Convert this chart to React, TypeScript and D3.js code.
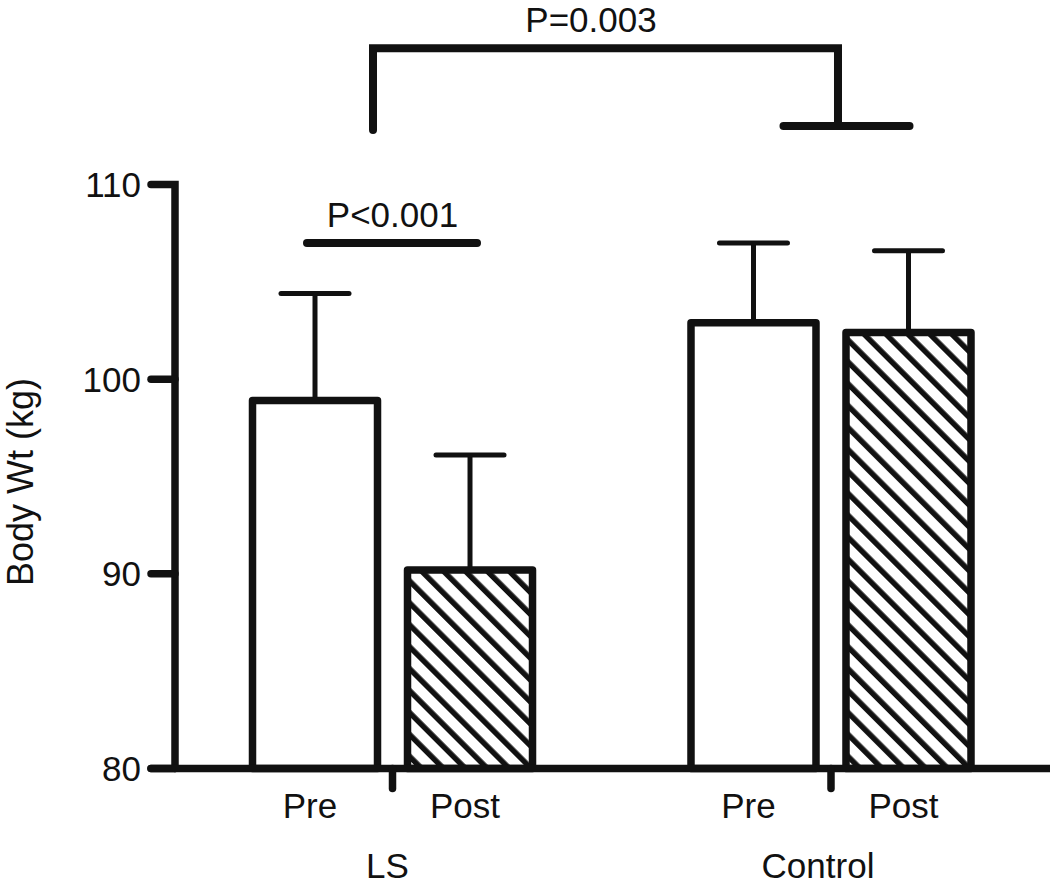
import React from "react";
import * as d3 from "d3";

const groups = ["LS", "Control"];
const phases = ["Pre", "Post"];
const preMeans = [98.9, 102.9];
const postMeans = [90.2, 102.4];
const preErrTop = [104.4, 107.0];
const postErrTop = [96.1, 106.6];
const yTicks = [80, 90, 100, 110];
const yLabel = "Body Wt (kg)";
const pInner = "P<0.001";
const pOuter = "P=0.003";

const W = 1050;
const H = 886;
const FONT = "'Liberation Sans', Arial, Helvetica, sans-serif";

export default function App() {
  const y = d3.scaleLinear().domain([80, 110]).range([768.5, 184.5]);
  const xGroup = d3
    .scaleBand<string>()
    .domain(groups)
    .range([237.5, 986])
    .paddingInner(0.293)
    .paddingOuter(0);
  const xPhase = d3
    .scaleBand<string>()
    .domain(phases)
    .range([0, xGroup.bandwidth()])
    .paddingInner(30 / 155)
    .paddingOuter(15 / 155);
  const bw = xPhase.bandwidth();
  const axisX = 175;
  const tickLeft = 151;

  const bars: { g: string; p: string; mean: number; top: number }[] = [];
  groups.forEach((g, i) => {
    bars.push({ g, p: "Pre", mean: preMeans[i], top: preErrTop[i] });
    bars.push({ g, p: "Post", mean: postMeans[i], top: postErrTop[i] });
  });
  const cx = (g: string, p: string) => (xGroup(g) as number) + (xPhase(p) as number) + bw / 2;
  const gc = (g: string) => (xGroup(g) as number) + xGroup.bandwidth() / 2;

  const lw = 7.5;

  return (
    <svg
      width={W}
      height={H}
      style={{ position: "absolute", left: 0, top: 0, background: "#fff" }}
      fontFamily={FONT}
    >
      <defs>
        <pattern
          id="hatch"
          patternUnits="userSpaceOnUse"
          width={15.5}
          height={15.5}
          patternTransform="rotate(-45)"
        >
          <rect x={0} y={0} width={15.5} height={15.5} fill="#fff" />
          <rect x={0} y={0} width={5.5} height={15.5} fill="#111" />
        </pattern>
      </defs>

      {/* bars */}
      {bars.map((b, i) => {
        const x0 = cx(b.g, b.p) - bw / 2;
        const yt = y(b.mean);
        return (
          <g key={i}>
            <line
              x1={cx(b.g, b.p)}
              x2={cx(b.g, b.p)}
              y1={yt}
              y2={y(b.top)}
              stroke="#111"
              strokeWidth={5}
            />
            <line
              x1={cx(b.g, b.p) - 34}
              x2={cx(b.g, b.p) + 34}
              y1={y(b.top)}
              y2={y(b.top)}
              stroke="#111"
              strokeWidth={5}
              strokeLinecap="round"
            />
            <rect
              x={x0}
              y={yt}
              width={bw}
              height={y(80) - yt}
              fill={b.p === "Post" ? "url(#hatch)" : "#fff"}
              stroke="#111"
              strokeWidth={lw}
              strokeLinejoin="round"
            />
          </g>
        );
      })}

      {/* y axis */}
      <path
        d={`M${tickLeft},${y(110)} H${axisX} V${y(80)}`}
        fill="none"
        stroke="#111"
        strokeWidth={lw}
        strokeLinecap="round"
      />
      {yTicks
        .filter((t) => t !== 110)
        .map((t) => (
          <line
            key={t}
            x1={tickLeft}
            x2={axisX}
            y1={y(t)}
            y2={y(t)}
            stroke="#111"
            strokeWidth={lw}
            strokeLinecap="round"
          />
        ))}
      {yTicks.map((t) => (
        <text key={"l" + t} x={141} y={y(t) + 12.5} textAnchor="end" fontSize={35} fill="#111">
          {t}
        </text>
      ))}
      {/* x axis */}
      <line x1={tickLeft} x2={W} y1={y(80)} y2={y(80)} stroke="#111" strokeWidth={lw} strokeLinecap="round" />
      {groups.map((g) => (
        <line
          key={"t" + g}
          x1={gc(g)}
          x2={gc(g)}
          y1={y(80)}
          y2={y(80) + 20}
          stroke="#111"
          strokeWidth={lw}
          strokeLinecap="round"
        />
      ))}
      {bars.map((b, i) => (
        <text key={"c" + i} x={cx(b.g, b.p) - 5} y={818} textAnchor="middle" fontSize={35} fill="#111">
          {b.p}
        </text>
      ))}
      {groups.map((g, i) => (
        <text key={"g" + g} x={gc(g) - (i === 0 ? 5 : 13)} y={878} textAnchor="middle" fontSize={35} fill="#111">
          {g}
        </text>
      ))}

      {/* y label */}
      <text
        transform={`translate(33,${482}) rotate(-90)`}
        textAnchor="middle"
        fontSize={36}
        fill="#111"
      >
        {yLabel}
      </text>

      {/* P<0.001 */}
      <line
        x1={cx("LS", "Pre") - 8}
        x2={cx("LS", "Post") + 7}
        y1={y(107)}
        y2={y(107)}
        stroke="#111"
        strokeWidth={8}
        strokeLinecap="round"
      />
      <text x={gc("LS")} y={y(107.8)} textAnchor="middle" fontSize={35} fill="#111">
        {pInner}
      </text>

      {/* P=0.003 bracket */}
      <path
        d={`M${gc("LS") - 19.5},${y(112.8)} V${y(117)} H${gc("Control") + 7} V${y(113)}`}
        fill="none"
        stroke="#111"
        strokeWidth={8}
        strokeLinejoin="miter"
        strokeLinecap="round"
      />
      <line
        x1={cx("Control", "Pre") + 30}
        x2={cx("Control", "Post") + 1}
        y1={y(113)}
        y2={y(113)}
        stroke="#111"
        strokeWidth={8}
        strokeLinecap="round"
      />
      <text x={591} y={y(117.83)} textAnchor="middle" fontSize={35} fill="#111">
        {pOuter}
      </text>
    </svg>
  );
}
